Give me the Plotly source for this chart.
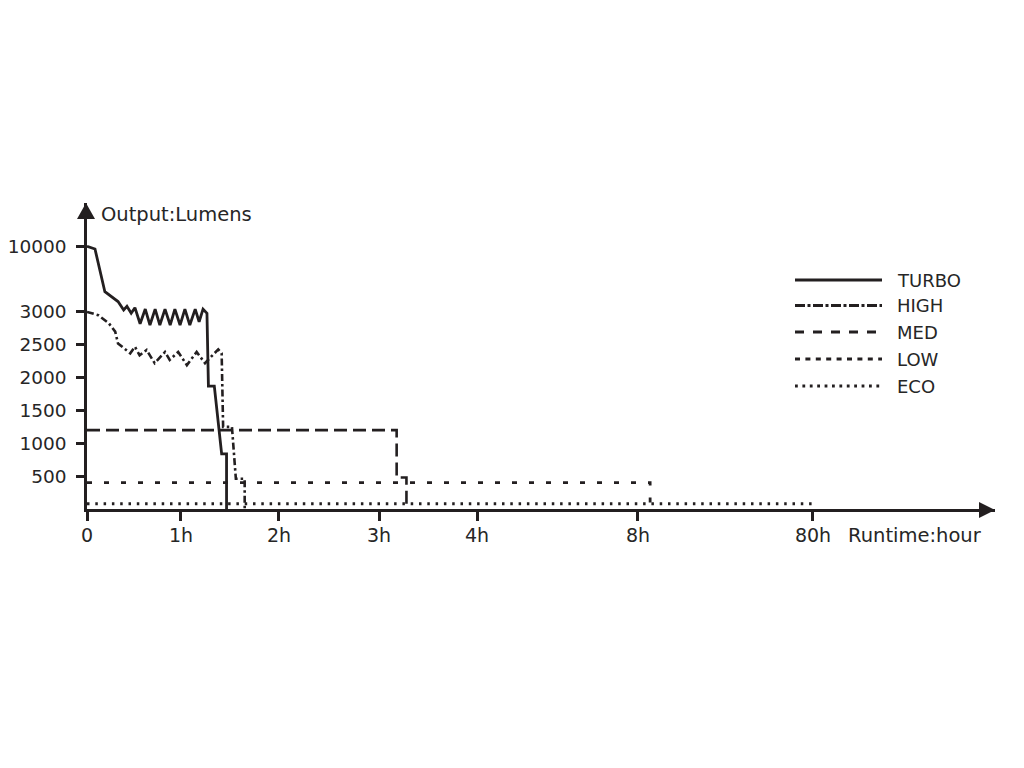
import numpy as np
import plotly.graph_objects as go

# ---------------- data (hours, lumens) ----------------
TURBO_H = [0, 0.085, 0.19, 0.33, 0.39, 0.425, 0.47, 0.51, 0.565, 0.62,
           0.67, 0.725, 0.775, 0.83, 0.885, 0.935, 0.99, 1.04, 1.09, 1.145,
           1.185, 1.225, 1.265, 1.28, 1.34, 1.415, 1.465, 1.465]
TURBO_LM = [10000, 9700, 5150, 4100, 3200, 3600, 2980, 3450, 2820, 3300,
            2800, 3300, 2800, 3300, 2800, 3300, 2800, 3300, 2800, 3300,
            2850, 3300, 2980, 1870, 1870, 840, 840, 0]

HIGH_H = [0, 0.12, 0.23, 0.30, 0.33, 0.37, 0.42, 0.46, 0.51, 0.56,
          0.635, 0.72, 0.83, 0.88, 0.97, 1.06, 1.16, 1.245, 1.38, 1.415,
          1.43, 1.52, 1.56, 1.65, 1.65]
HIGH_LM = [3000, 2950, 2830, 2700, 2520, 2470, 2420, 2370, 2470, 2340,
           2420, 2220, 2390, 2270, 2390, 2190, 2390, 2220, 2430, 2370,
           1250, 1250, 460, 460, 0]

MED_H = [0, 3.18, 3.18, 3.28, 3.28]
MED_LM = [1200, 1200, 480, 480, 0]

LOW_H = [0, 13, 13]
LOW_LM = [400, 400, 0]

ECO_H = [0, 80]
ECO_LM = [80, 80]

X_TICK_HOURS = [0, 1, 2, 3, 4, 8, 80]
X_TICK_LABELS = ["0", "1h", "2h", "3h", "4h", "8h", "80h"]
Y_TICK_LUMENS = [500, 1000, 1500, 2000, 2500, 3000, 10000]
Y_TICK_LABELS = ["500", "1000", "1500", "2000", "2500", "3000", "10000"]

# ---------------- the chart's own (broken) scales ----------------
X_SCALE_HOURS = [0, 1, 2, 3, 4, 8, 80]
X_SCALE_POS = [0, 0.964, 1.969, 2.995, 4.0, 5.651, 7.446]
Y_SCALE_LUMENS = [0, 3000, 10000]
Y_SCALE_POS = [0, 3000, 4000]


def xs(h):
    return np.interp(h, X_SCALE_HOURS, X_SCALE_POS)


def ys(v):
    return np.interp(v, Y_SCALE_LUMENS, Y_SCALE_POS)


INK = "#231f20"
TXT = "#262626"
FONT = "DejaVu Sans"

# page offset of the figure inside the html body
OFF = 8
W, H = 1024 - OFF, 768 - OFF
# plot-area geometry (pixels in the 1024x768 page)
L, R, T, B = 87, 995, 203, 509
X_RANGE = [0, (R - L) / 97.5]
Y_RANGE = [0, (B - T) / 0.0657]


def px(xp):
    return (xp - L) / (R - L)


def py(yp):
    return (B - yp) / (B - T)


series = [
    ("TURBO", TURBO_H, TURBO_LM, "solid", 2.8),
    ("HIGH", HIGH_H, HIGH_LM, "7px,3px,2.5px,3px", 2.6),
    ("MED", MED_H, MED_LM, "13px,6px", 2.6),
    ("LOW", LOW_H, LOW_LM, "5px,12px", 2.8),
    ("ECO", ECO_H, ECO_LM, "2.5px,5.8px", 2.8),
]

fig = go.Figure()
for name, h, lm, dash, w in series:
    fig.add_trace(go.Scatter(
        x=xs(h), y=ys(lm), mode="lines", name=name, showlegend=False,
        line=dict(color=INK, width=w, dash=dash), hoverinfo="skip"))

# ---------------- custom legend ----------------
legend_dash = ["solid", "10px,2.5px,3px,2.5px", "9px,9px", "5px,5.4px", "2.8px,4.6px"]
legend_rows = [280, 305.5, 332, 359, 386]
shapes = []
annotations = []
for (name, _, _, _, w), d, ry in zip(series, legend_dash, legend_rows):
    shapes.append(dict(type="line", xref="paper", yref="paper",
                       x0=px(795), x1=px(882), y0=py(ry), y1=py(ry),
                       line=dict(color=INK, width=2.8, dash=d)))
    annotations.append(dict(text=name, xref="paper", yref="paper",
                            x=px(895), y=py(ry), xanchor="left", yanchor="middle",
                            showarrow=False, font=dict(family=FONT, size=18, color=TXT)))

# axis arrowheads
shapes.append(dict(type="path", xref="paper", yref="paper", xsizemode="pixel",
                   ysizemode="pixel", xanchor=0, yanchor=1,
                   path="M -10,-16 L -1,0 L 8,-16 Z", fillcolor=INK,
                   line=dict(color=INK, width=0)))
shapes.append(dict(type="path", xref="paper", yref="paper", xsizemode="pixel",
                   ysizemode="pixel", xanchor=1, yanchor=0,
                   path="M -16,7 L 0,-1 L -16,-9 Z", fillcolor=INK,
                   line=dict(color=INK, width=0)))

annotations.append(dict(text="Output:Lumens", xref="paper", yref="paper",
                        x=px(99), y=py(214), xanchor="left", yanchor="middle",
                        showarrow=False, font=dict(family=FONT, size=19.5, color=TXT)))
annotations.append(dict(text="Runtime:hour", xref="paper", yref="paper",
                        x=px(846), y=py(535), xanchor="left", yanchor="middle",
                        showarrow=False, font=dict(family=FONT, size=19.5, color=TXT)))

fig.update_layout(
    width=W, height=H,
    margin=dict(l=L - OFF, r=W - (R - OFF), t=T - OFF, b=H - (B - OFF), pad=0,
                autoexpand=False),
    paper_bgcolor="white", plot_bgcolor="white",
    shapes=shapes, annotations=annotations,
    font=dict(family=FONT, color=TXT),
    xaxis=dict(range=X_RANGE, showgrid=False, zeroline=False, automargin=False,
               showline=True, linecolor=INK, linewidth=2.5,
               ticks="outside", ticklen=9, tickwidth=2.5, tickcolor=INK,
               tickvals=list(xs(X_TICK_HOURS)), ticktext=X_TICK_LABELS,
               tickfont=dict(family=FONT, size=19, color=TXT),
               ticklabelstandoff=-2, fixedrange=True),
    yaxis=dict(range=Y_RANGE, showgrid=False, zeroline=False, automargin=False,
               showline=True, linecolor=INK, linewidth=2.5,
               ticks="outside", ticklen=8, tickwidth=2.5, tickcolor=INK,
               tickvals=list(ys(Y_TICK_LUMENS)), ticktext=Y_TICK_LABELS,
               tickfont=dict(family=FONT, size=18.5, color=TXT),
               ticklabelstandoff=6, fixedrange=True),
)

fig.write_html("out.html")
